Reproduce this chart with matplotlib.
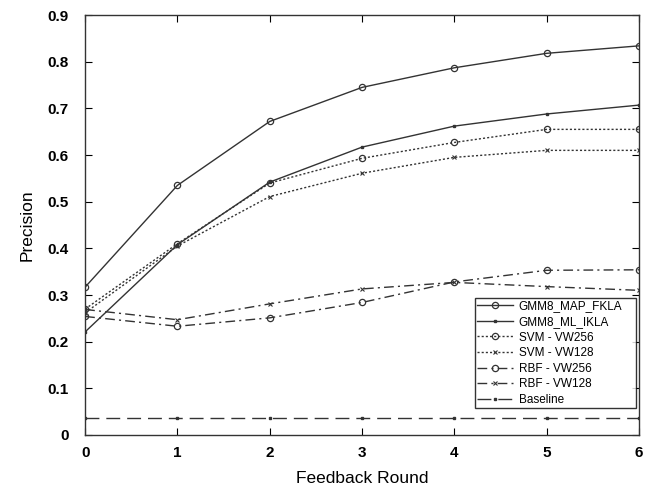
import numpy as np
import matplotlib
matplotlib.use('Agg')
import matplotlib.pyplot as plt

plt.rcParams['font.family'] = ['Liberation Sans', 'DejaVu Sans']

rounds = [0, 1, 2, 3, 4, 5, 6]
gmm_map = [0.317, 0.535, 0.672, 0.745, 0.787, 0.818, 0.834]
gmm_ml = [0.221, 0.408, 0.542, 0.617, 0.662, 0.688, 0.707]
svm_256 = [0.270, 0.410, 0.540, 0.593, 0.627, 0.655, 0.655]
svm_128 = [0.262, 0.405, 0.511, 0.561, 0.595, 0.610, 0.610]
rbf_256 = [0.254, 0.233, 0.251, 0.284, 0.328, 0.353, 0.354]
rbf_128 = [0.269, 0.247, 0.281, 0.313, 0.327, 0.318, 0.310]
baseline = [0.037] * 7

col = '#333333'
fig = plt.figure(figsize=(6.5, 4.86), dpi=100)
ax = fig.add_axes([0.131, 0.105, 0.852, 0.864])

ax.plot(rounds, gmm_map, '-', color=col, lw=1.0, marker='o', ms=4.5, mfc='none', mew=0.9, label='GMM8_MAP_FKLA')
ax.plot(rounds, gmm_ml, '-', color=col, lw=1.0, marker='s', ms=2, label='GMM8_ML_IKLA')
ax.plot(rounds, svm_256, color=col, lw=1.0, ls=(0, (1.5, 1.5)), marker='o', ms=4.5, mfc='none', mew=0.9, label='SVM - VW256')
ax.plot(rounds, svm_128, color=col, lw=1.0, ls=(0, (1.5, 1.5)), marker='x', ms=2.5, mew=0.8, label='SVM - VW128')
ax.plot(rounds, rbf_256, color=col, lw=1.0, ls=(0, (7, 3, 1.5, 3)), marker='o', ms=4.5, mfc='none', mew=0.9, label='RBF - VW256')
ax.plot(rounds, rbf_128, color=col, lw=1.0, ls=(0, (7, 3, 1.5, 3)), marker='x', ms=2.5, mew=0.8, label='RBF - VW128')
ax.plot(rounds, baseline, color=col, lw=1.0, ls=(0, (10, 5)), marker='s', ms=2, label='Baseline')

ax.set_xlim(0, 6)
ax.set_ylim(0, 0.9)
ax.set_xticks(rounds)
ax.set_yticks(np.arange(0, 0.91, 0.1))
ax.set_yticklabels(['0'] + ['%.1f' % v for v in np.arange(0.1, 0.91, 0.1)])
ax.tick_params(direction='in', top=True, right=True, length=5, width=0.8, labelsize=11)
ax.tick_params(axis='x', pad=8)
ax.tick_params(axis='y', pad=12)
for lab in ax.get_xticklabels() + ax.get_yticklabels():
    lab.set_fontweight('bold')
for s in ax.spines.values():
    s.set_linewidth(1.0)
    s.set_color(col)

ax.set_xlabel('Feedback Round', fontsize=12.5, labelpad=8)
ax.set_ylabel('Precision', fontsize=12.5, labelpad=9)

# legend box spans a fixed width in the lower right corner
leg = ax.legend(loc='lower left', bbox_to_anchor=(0.704, 0.064, 0.291, 0.2), mode='expand',
                fontsize=8.5, frameon=True, fancybox=False, edgecolor='black',
                handlelength=3.0, borderpad=0.2, labelspacing=0.3, handletextpad=0.5,
                borderaxespad=0)
leg.get_frame().set_linewidth(1.0)

fig.savefig('out.png', dpi=100)
